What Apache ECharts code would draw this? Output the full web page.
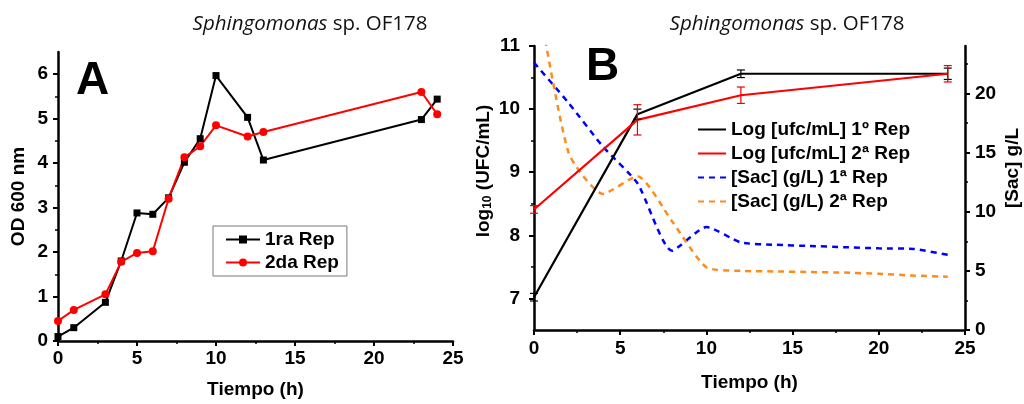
<!DOCTYPE html>
<html>
<head>
<meta charset="utf-8">
<script src="https://cdn.jsdelivr.net/npm/echarts@6/dist/echarts.min.js"></script>
<style>
  html, body { margin: 0; padding: 0; background: #fff; }
  #chart { width: 1024px; height: 404px; }
</style>
</head>
<body>
<div id="chart"></div>
<script>
// --- Panel A: OD 600 nm ---
var timeA = [0, 1, 3, 4, 5, 6, 7, 8, 9, 10, 12, 13, 23, 24];
var odRep1 = [0.1, 0.3, 0.87, 1.8, 2.88, 2.85, 3.22, 4.02, 4.55, 5.97, 5.03, 4.07, 4.98, 5.44];
var odRep2 = [0.45, 0.7, 1.05, 1.78, 1.98, 2.02, 3.2, 4.13, 4.38, 4.85, 4.6, 4.7, 5.6, 5.1];

// --- Panel B: log UFC and sugar ---
var timeB = [0, 6, 12, 24];
var logRep1 = [7.02, 9.92, 10.56, 10.56];
var errRep1 = [0.06, 0.08, 0.06, 0.09];
var logRep2 = [8.41, 9.83, 10.22, 10.56];
var errRep2 = [0.06, 0.24, 0.13, 0.13];

var timeSac = [0, 2, 4, 6, 8, 10, 12, 14, 16, 18, 20, 22, 24];
var sacRep1 = [22.6, 19.2, 15.5, 12.4, 6.7, 8.7, 7.4, 7.2, 7.1, 7.0, 6.9, 6.85, 6.35];
var sacRep2 = [30, 15.0, 11.5, 13.0, 9.2, 5.3, 5.0, 4.95, 4.9, 4.85, 4.75, 4.6, 4.5];

// tick values
var odTicks = [0, 1, 2, 3, 4, 5, 6];
var odMinor = [0.5, 1.5, 2.5, 3.5, 4.5, 5.5];
var logTicks = [7, 8, 9, 10, 11];
var logMinor = [7.5, 8.5, 9.5, 10.5];
var sacTicks = [0, 5, 10, 15, 20];
var sacMinor = [2.5, 7.5, 12.5, 17.5, 22.5];

var FONT = 'Liberation Sans, Arial, sans-serif';

function pairs(xs, ys) {
  return xs.map(function (x, i) { return [x, ys[i]]; });
}
function triples(xs, ys, es) {
  return xs.map(function (x, i) { return [x, ys[i], es[i]]; });
}

// error bars drawn with a custom series
function errBars(color) {
  return function (params, api) {
    var x = api.value(0), y = api.value(1), e = api.value(2);
    var top = api.coord([x, y + e]);
    var bot = api.coord([x, y - e]);
    var w = 4;
    var st = { stroke: color, lineWidth: 1.2 };
    return {
      type: 'group',
      children: [
        { type: 'line', shape: { x1: top[0], y1: top[1], x2: bot[0], y2: bot[1] }, style: st },
        { type: 'line', shape: { x1: top[0] - w, y1: top[1], x2: top[0] + w, y2: top[1] }, style: st },
        { type: 'line', shape: { x1: bot[0] - w, y1: bot[1], x2: bot[0] + w, y2: bot[1] }, style: st }
      ]
    };
  };
}

var axisLine = { lineStyle: { color: '#000', width: 2.5 } };
var labelStyle = { color: '#000', fontFamily: FONT, fontWeight: 'bold', fontSize: 19 };
var nameStyle = { color: '#000', fontFamily: FONT, fontWeight: 'bold', fontSize: 19 };

function minorAxis(grid, min, max, values, pos) {
  return {
    type: 'value', gridIndex: grid, min: min, max: max, position: pos,
    axisLine: { show: false }, splitLine: { show: false },
    axisLabel: { show: false },
    axisTick: { show: true, length: 3, customValues: values, lineStyle: { color: '#000', width: 1.5 } }
  };
}

var chart = echarts.init(document.getElementById('chart'));

var titleText = '{i|Sphingomonas} sp. OF178';
var titleRich = { i: { fontStyle: 'italic', fontFamily: 'Open Sans', fontSize: 20.5, color: '#111' } };

chart.setOption({
  animation: false,
  backgroundColor: '#fff',
  title: [
    { text: titleText, left: 305, top: 9, textAlign: 'center',
      textStyle: { fontFamily: 'Open Sans', fontSize: 20.5, fontWeight: 'normal', color: '#111', rich: titleRich } },
    { text: titleText, left: 782, top: 9, textAlign: 'center',
      textStyle: { fontFamily: 'Open Sans', fontSize: 20.5, fontWeight: 'normal', color: '#111', rich: titleRich } }
  ],
  graphic: [
    { type: 'text', left: 76, top: 58, style: { text: 'A', fontFamily: FONT, fontWeight: 'bold', fontSize: 46, fill: '#000' } },
    { type: 'text', left: 586, top: 44, style: { text: 'B', fontFamily: FONT, fontWeight: 'bold', fontSize: 46, fill: '#000' } }
  ],
  legend: [
    {
      data: ['1ra Rep', '2da Rep'],
      orient: 'vertical', left: 213, top: 226,
      padding: [4, 8, 4, 12], itemGap: 4, itemWidth: 34, itemHeight: 10,
      borderColor: '#777', borderWidth: 1, borderRadius: 0,
      textStyle: { fontFamily: FONT, fontWeight: 'bold', fontSize: 19, color: '#000' }
    },
    {
      data: ['Log [ufc/mL] 1º Rep', 'Log [ufc/mL] 2ª Rep', '[Sac] (g/L) 1ª Rep', '[Sac] (g/L) 2ª Rep'],
      orient: 'vertical', left: 697, top: 120,
      padding: 0, itemGap: 5, itemWidth: 28, itemHeight: 20,
      itemStyle: { opacity: 0 },
      textStyle: { fontFamily: FONT, fontWeight: 'bold', fontSize: 19, color: '#000' }
    }
  ],
  grid: [
    { left: 58, top: 52, width: 395, height: 290 },
    { left: 534, top: 46, width: 431, height: 284 }
  ],
  xAxis: [
    {
      type: 'value', gridIndex: 0, min: 0, max: 25, interval: 5,
      name: 'Tiempo (h)', nameLocation: 'middle', nameGap: 39, nameTextStyle: nameStyle,
      axisLine: axisLine, splitLine: { show: false },
      axisTick: { length: 5, lineStyle: { color: '#000', width: 2 } },
      minorTick: { show: true, splitNumber: 2, length: 3, lineStyle: { color: '#000', width: 1.5 } },
      axisLabel: Object.assign({ margin: 8 }, labelStyle)
    },
    {
      type: 'value', gridIndex: 1, min: 0, max: 25, interval: 5,
      name: 'Tiempo (h)', nameLocation: 'middle', nameGap: 43, nameTextStyle: nameStyle,
      axisLine: axisLine, splitLine: { show: false },
      axisTick: { length: 5, lineStyle: { color: '#000', width: 2 } },
      minorTick: { show: true, splitNumber: 2, length: 3, lineStyle: { color: '#000', width: 1.5 } },
      axisLabel: Object.assign({ margin: 9 }, labelStyle)
    }
  ],
  yAxis: [
    {
      type: 'value', gridIndex: 0, min: 0, max: 6.5,
      name: 'OD 600 nm', nameLocation: 'middle', nameGap: 30, nameTextStyle: nameStyle,
      axisLine: Object.assign({ show: true }, axisLine), splitLine: { show: false },
      axisTick: { show: true, length: 5, customValues: odTicks, lineStyle: { color: '#000', width: 2 } },
      axisLabel: Object.assign({ margin: 10, customValues: odTicks }, labelStyle)
    },
    minorAxis(0, 0, 6.5, odMinor, 'left'),
    {
      type: 'value', gridIndex: 1, min: 6.5, max: 11, position: 'left',
      name: 'log{s|10} (UFC/mL)', nameLocation: 'middle', nameGap: 40,
      nameTextStyle: Object.assign({ padding: [0, 0, 0, 34], rich: { s: { fontFamily: FONT, fontWeight: 'bold', fontSize: 12, verticalAlign: 'bottom', padding: [8, 0, 0, 0], color: '#000' } } }, nameStyle),
      axisLine: Object.assign({ show: true }, axisLine), splitLine: { show: false },
      axisTick: { show: true, length: 5, customValues: logTicks, lineStyle: { color: '#000', width: 2 } },
      axisLabel: Object.assign({ margin: 14, customValues: logTicks }, labelStyle)
    },
    minorAxis(1, 6.5, 11, logMinor, 'left'),
    {
      type: 'value', gridIndex: 1, min: 0, max: 24, position: 'right',
      name: '[Sac] g/L', nameLocation: 'middle', nameGap: 38,
      nameTextStyle: Object.assign({ padding: [0, 0, 0, 40] }, nameStyle),
      axisLine: Object.assign({ show: true }, axisLine), splitLine: { show: false },
      axisTick: { show: true, length: 5, customValues: sacTicks, lineStyle: { color: '#000', width: 2 } },
      axisLabel: Object.assign({ margin: 10, customValues: sacTicks }, labelStyle)
    },
    minorAxis(1, 0, 24, sacMinor, 'right')
  ],
  series: [
    {
      name: '1ra Rep', type: 'line', xAxisIndex: 0, yAxisIndex: 0,
      data: pairs(timeA, odRep1), symbol: 'rect', symbolSize: 7,
      lineStyle: { color: '#000', width: 2 }, itemStyle: { color: '#000' }
    },
    {
      name: '2da Rep', type: 'line', xAxisIndex: 0, yAxisIndex: 0,
      data: pairs(timeA, odRep2), symbol: 'circle', symbolSize: 8,
      lineStyle: { color: '#f00', width: 2 }, itemStyle: { color: '#f00' }
    },
    {
      name: '[Sac] (g/L) 1ª Rep', type: 'line', xAxisIndex: 1, yAxisIndex: 4,
      data: pairs(timeSac, sacRep1), symbol: 'none', smooth: 0.2,
      lineStyle: { color: '#0000ff', width: 2.5, type: [6, 5] }, itemStyle: { color: '#0000ff' }
    },
    {
      name: '[Sac] (g/L) 2ª Rep', type: 'line', xAxisIndex: 1, yAxisIndex: 4,
      data: pairs(timeSac, sacRep2), symbol: 'none', smooth: 0.2,
      lineStyle: { color: '#ff8c1a', width: 2.5, type: [6, 5] }, itemStyle: { color: '#ff8c1a' }
    },
    {
      name: 'Log [ufc/mL] 1º Rep', type: 'line', xAxisIndex: 1, yAxisIndex: 2,
      data: pairs(timeB, logRep1), symbol: 'none',
      lineStyle: { color: '#000', width: 2.2 }, itemStyle: { color: '#000' }
    },
    {
      name: 'Log [ufc/mL] 2ª Rep', type: 'line', xAxisIndex: 1, yAxisIndex: 2,
      data: pairs(timeB, logRep2), symbol: 'none',
      lineStyle: { color: '#f00', width: 2.2 }, itemStyle: { color: '#f00' }
    },
    {
      name: 'err1', type: 'custom', xAxisIndex: 1, yAxisIndex: 2, z: 5,
      renderItem: errBars('#000'), data: triples(timeB, logRep1, errRep1)
    },
    {
      name: 'err2', type: 'custom', xAxisIndex: 1, yAxisIndex: 2, z: 5,
      renderItem: errBars('#e00'), data: triples(timeB, logRep2, errRep2)
    }
  ]
});
</script>
</body>
</html>
